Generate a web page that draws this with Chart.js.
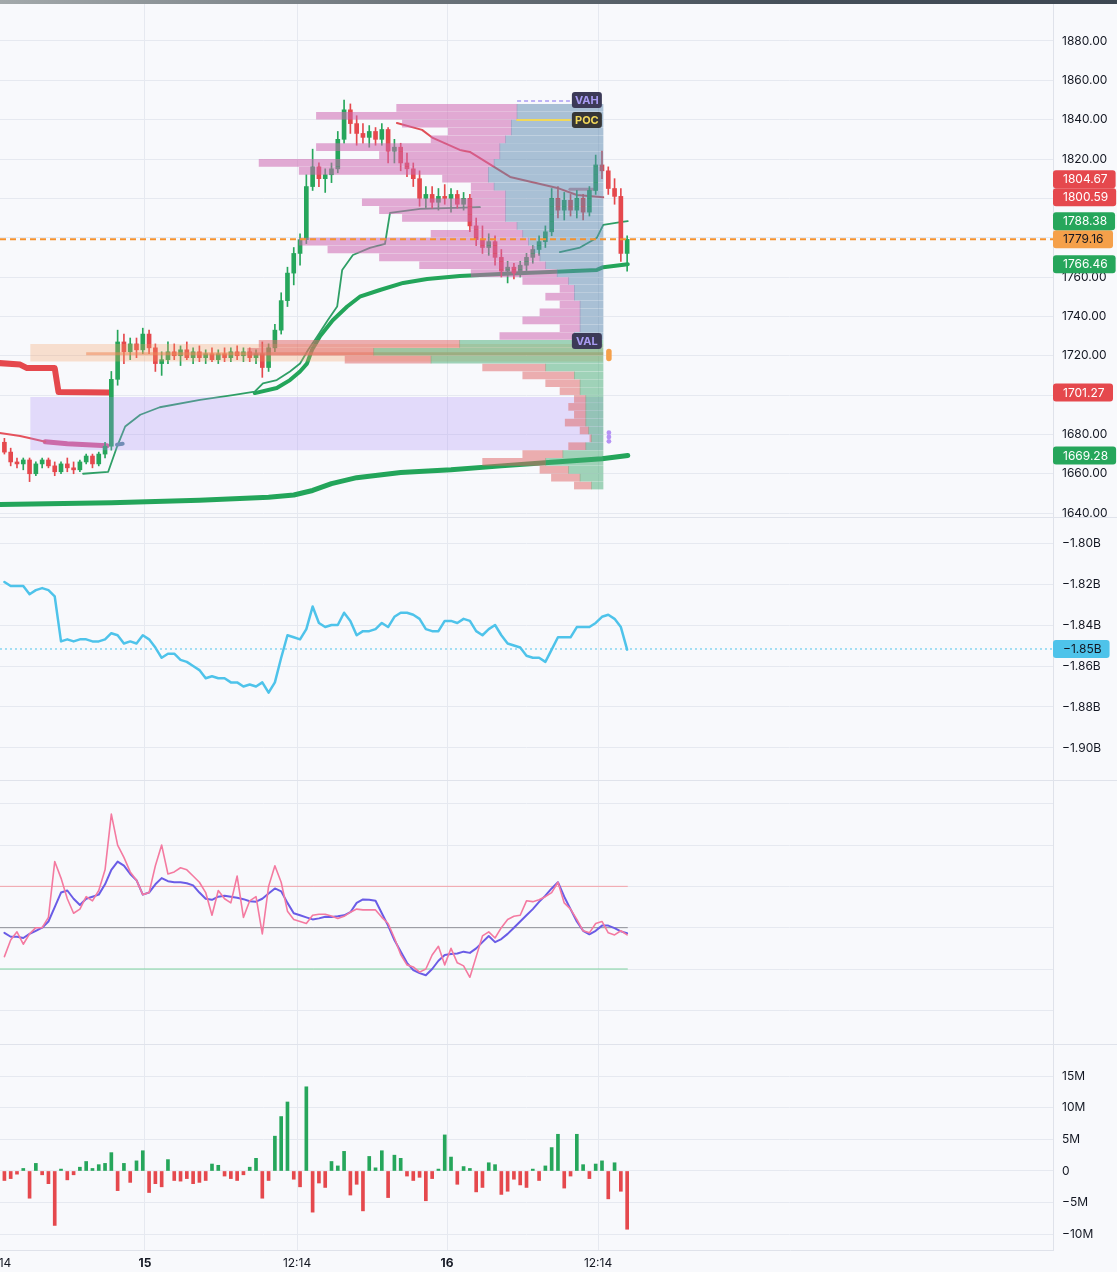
<!DOCTYPE html>
<html>
<head>
<meta charset="utf-8">
<script src="https://cdn.jsdelivr.net/npm/chart.js@4.4.1/dist/chart.umd.min.js"></script>
<style>
  body { margin: 0; background: #f8f9fc; width: 1117px; height: 1272px; overflow: hidden; position: relative; }
  .topbar { position: absolute; left: 0; top: 0; width: 1117px; height: 4px; background: linear-gradient(90deg, #a3a9ab, #6f777d 35%, #46505a 70%, #3d4752); }
  .pane { position: absolute; left: 0; }
  .sep { position: absolute; left: 0; width: 1117px; height: 1px; background: #e0e3eb; z-index: 2; }
</style>
</head>
<body>
<div class="topbar"></div>
<canvas class="pane" id="priceChart" width="1117" height="514" style="top:4px"></canvas>
<canvas class="pane" id="cvdChart" width="1117" height="263" style="top:518px"></canvas>
<canvas class="pane" id="oscChart" width="1117" height="263" style="top:781px"></canvas>
<canvas class="pane" id="deltaChart" width="1117" height="228" style="top:1044px"></canvas>
<div class="sep" style="top:517px"></div>
<div class="sep" style="top:780px"></div>
<div class="sep" style="top:1044px"></div>
<script>
// --- x axis (bar index, 30 min bars) ---
const xTickPos = [-1.15, 22.35, 46.52, 70.37, 94.37];
const xTickLabels = ['12:14', '15', '12:14', '16', '12:14'];
const X_MIN = -0.7, X_MAX = 166.7;

// --- candles ---
const opens = [1676, 1671, 1666, 1665, 1667, 1660, 1665, 1667, 1664, 1661,
  1665, 1663, 1662, 1666, 1669, 1665, 1670, 1674, 1708, 1727,
  1722, 1726, 1723, 1731, 1724, 1716, 1718, 1722, 1720, 1723,
  1719, 1722, 1719, 1721, 1718, 1721, 1719, 1722, 1720, 1722,
  1719, 1721, 1714, 1724, 1733, 1748, 1762, 1772, 1779, 1806,
  1816, 1810, 1812, 1815, 1830, 1845, 1838, 1833, 1831, 1834,
  1830, 1835, 1824, 1826, 1818, 1815, 1810, 1800, 1802, 1798,
  1801, 1800, 1802, 1797, 1800, 1786, 1779, 1775, 1778, 1770,
  1763, 1765, 1762, 1766, 1770, 1774, 1778, 1783, 1800, 1794,
  1799, 1794, 1800, 1793, 1804, 1817, 1814, 1805, 1801, 1772];
const highs = [1678, 1673, 1668, 1668, 1668, 1666, 1668, 1668, 1666, 1666,
  1668, 1666, 1667, 1670, 1670, 1671, 1676, 1712, 1733, 1731,
  1729, 1729, 1734, 1733, 1726, 1722, 1727, 1726, 1725, 1727,
  1724, 1725, 1723, 1724, 1723, 1724, 1724, 1725, 1724, 1724,
  1723, 1727, 1726, 1736, 1752, 1765, 1775, 1782, 1812, 1825,
  1818, 1815, 1818, 1834, 1850, 1848, 1842, 1838, 1837, 1836,
  1838, 1836, 1830, 1828, 1823, 1818, 1814, 1806, 1806, 1805,
  1807, 1805, 1804, 1803, 1802, 1790, 1786, 1782, 1781, 1774,
  1768, 1767, 1768, 1772, 1776, 1781, 1786, 1805, 1806, 1803,
  1802, 1804, 1802, 1806, 1822, 1824, 1816, 1810, 1805, 1781];
const lows = [1670, 1664, 1663, 1662, 1656, 1659, 1663, 1663, 1659, 1660,
  1661, 1660, 1661, 1665, 1663, 1664, 1668, 1672, 1705, 1716,
  1718, 1719, 1721, 1721, 1712, 1710, 1716, 1718, 1715, 1718,
  1716, 1717, 1716, 1717, 1716, 1717, 1717, 1718, 1717, 1717,
  1716, 1709, 1712, 1722, 1731, 1745, 1756, 1766, 1777, 1804,
  1806, 1803, 1808, 1813, 1828, 1833, 1827, 1828, 1826, 1827,
  1827, 1818, 1818, 1814, 1811, 1806, 1796, 1795, 1795, 1794,
  1797, 1793, 1795, 1794, 1783, 1776, 1772, 1771, 1766, 1760,
  1757, 1759, 1760, 1763, 1767, 1771, 1775, 1781, 1790, 1789,
  1791, 1790, 1789, 1791, 1802, 1810, 1802, 1797, 1768, 1763];
const closes = [1671, 1666, 1665, 1667, 1660, 1665, 1667, 1664, 1661, 1665,
  1663, 1662, 1666, 1669, 1665, 1670, 1674, 1708, 1727, 1722,
  1726, 1723, 1731, 1724, 1716, 1718, 1722, 1720, 1723, 1719,
  1722, 1719, 1721, 1718, 1721, 1719, 1722, 1720, 1722, 1719,
  1721, 1714, 1724, 1733, 1748, 1762, 1772, 1779, 1806, 1816,
  1810, 1812, 1815, 1830, 1845, 1838, 1833, 1831, 1834, 1830,
  1835, 1824, 1826, 1818, 1815, 1810, 1800, 1802, 1798, 1801,
  1800, 1802, 1797, 1800, 1786, 1779, 1775, 1778, 1770, 1763,
  1765, 1762, 1766, 1770, 1774, 1778, 1783, 1800, 1794, 1799,
  1794, 1800, 1793, 1804, 1817, 1814, 1805, 1801, 1772, 1779.16];

// --- overlay lines on price pane (x = bar index, y = price) ---
const lowerTrendX = [-1, 17, 31, 42, 46, 49, 52, 56, 63, 71, 79, 87, 95, 99.1];
const lowerTrendY = [1644.3, 1645.3, 1646.5, 1648, 1649.2, 1651.5, 1655, 1658, 1660.6, 1662, 1664, 1665.8, 1667.6, 1669.28];
const upperTrendX = [39.8, 43.3, 45.4, 47, 48.1, 48.9, 50.2, 52.2, 54.5, 56.5, 59.7, 63.4, 67.2, 72.4, 78.8, 86.7, 94.2, 95.2, 99.1];
const upperTrendY = [1701, 1703.6, 1707.6, 1712, 1716, 1723, 1730, 1738, 1745, 1750, 1753.4, 1757, 1759, 1760.5, 1761.5, 1762.5, 1763.6, 1765, 1766.46];
const vwapX = [12.5, 16.5, 17.9, 19.2, 21.6, 24.7, 31.1, 36.3, 39.8, 41.1, 43.3, 45.4, 47, 48.3, 49.7, 51.4, 52.9, 53.7, 55.4, 58.1, 60.5, 61.3, 66.1, 75.6, 80, 88.3, 91.5, 94.2, 95.2, 98.2, 99.1];
const vwapY = [1660, 1661, 1673.7, 1684, 1690, 1693.8, 1697.5, 1700, 1701.7, 1706, 1707.6, 1712, 1716, 1723, 1729.7, 1738, 1745, 1763.6, 1771.2, 1774.8, 1776.8, 1792.6, 1794.6, 1795.5, null, 1772.7, 1775, 1780, 1786.5, 1788, 1788.38];
const stopX = [-1, 2.5, 3.6, 8.0, 8.6, 16.8];
const stopY = [1716.3, 1715.5, 1713.7, 1713.7, 1701.5, 1701.27];
const lowerRedX = [-1, 2.5, 4.1, 6.5];
const lowerRedY = [1680.9, 1679.2, 1678, 1676.3];
const pinkBandX = [6.5, 10, 16.3];
const pinkBandY = [1676.3, 1675.2, 1674.2];
const descRedX = [62.4, 66.4, 68.1, 72.4, 74, 80.4, 87.9, 91, 95.2];
const descRedY = [1838.3, 1834.8, 1830.7, 1824.6, 1823.6, 1810.9, 1805.3, 1801.7, 1800.59];
const roseX = [89.9, 93.6];
const roseY = [1804.67, 1804.67];

// zones
const zoneX = [4.1, 95.2];
const purpleZone = [1672, 1699];
const orangeZone = [1717, 1726];
const orangeMidX = [13, 95.2];
const orangeMid = 1721;
const lastPrice = 1779.16;

// --- volume profile rows (price, total, inner part) ---
const profilePrice = [1846, 1842, 1838, 1834, 1830, 1826, 1822, 1818, 1814, 1810, 1806, 1802, 1798, 1794, 1790, 1786, 1782, 1778, 1774, 1770, 1766, 1762, 1758, 1754, 1750, 1746, 1742, 1738, 1734, 1730, 1726, 1722, 1718, 1714, 1710, 1706, 1702, 1698, 1694, 1690, 1686, 1682, 1678, 1674, 1670, 1666, 1662, 1658, 1654];
const profileTotal = [36, 50, 35, 27, 30, 50, 39, 60, 53, 28, 23, 23, 42, 39, 35, 23, 30, 53, 48, 39, 32, 23, 14, 7.5, 10, 7.5, 11, 14, 7.5, 18, 60, 62, 45, 21, 14, 10, 7.5, 5, 6, 5, 6.6, 4, 2.3, 6, 14, 21, 11, 9, 5];
const profileInner = [15, 15, 16, 16, 17, 18, 18, 19, 20, 20, 19, 17, 17, 17, 17, 15, 14, 13, 12, 11, 10, 8, 6, 5, 5, 4, 4, 4, 4, 5, 25, 40, 30, 10, 5, 4, 4, 3, 3, 3, 3, 2.5, 2, 3, 7, 10, 6, 4, 2];
const VAL_PRICE = 1728;
const markNames = ['VAH', 'POC', 'VAL'];
const markPrices = [1850, 1839.8, 1727.5];
const markX = 92.6;
const markLineX = [81.5, 89.9];
const dotX = 96.1;
const orangePill = [1718.6, 1722.2];
const purpleDotsY = [1680.9, 1678.7, 1676.5];

// right axis tags
const tagValues = [1804.67, 1800.59, 1788.38, 1779.16, 1766.46, 1701.27, 1669.28];
const tagKinds = ['down', 'down', 'up', 'last', 'up', 'down', 'up'];

// --- cumulative delta pane ---
const cvd = [-1.819, -1.821, -1.821, -1.821, -1.825, -1.823, -1.822, -1.823, -1.826, -1.848,
  -1.847, -1.848, -1.847, -1.847, -1.848, -1.848, -1.847, -1.844, -1.845, -1.849,
  -1.848, -1.849, -1.845, -1.847, -1.851, -1.856, -1.854, -1.854, -1.857, -1.858,
  -1.860, -1.862, -1.866, -1.865, -1.866, -1.866, -1.868, -1.868, -1.870, -1.869,
  -1.870, -1.868, -1.873, -1.868, -1.856, -1.845, -1.846, -1.847, -1.842, -1.831,
  -1.839, -1.841, -1.840, -1.840, -1.834, -1.838, -1.845, -1.843, -1.843, -1.842,
  -1.839, -1.841, -1.836, -1.834, -1.834, -1.835, -1.837, -1.842, -1.843, -1.843,
  -1.838, -1.838, -1.839, -1.837, -1.838, -1.843, -1.845, -1.842, -1.840, -1.845,
  -1.849, -1.850, -1.851, -1.855, -1.856, -1.856, -1.858, -1.852, -1.846, -1.846,
  -1.846, -1.841, -1.841, -1.841, -1.839, -1.836, -1.835, -1.837, -1.841, -1.852];
const cvdLast = -1.8517;
const cvdTicks = [-1.90, -1.88, -1.86, -1.84, -1.82, -1.80];

// --- oscillator pane ---
const oscFast = [36, 44, 48, 42, 47, 50, 50, 55, 82, 74,
  64, 57, 59, 65, 63, 68, 78, 105, 90, 84,
  77, 73, 66, 67, 80, 90, 76, 77, 79, 78,
  75, 72, 67, 56, 68, 64, 62, 75, 55, 63,
  65, 47, 70, 80, 72, 58, 54, 53, 52, 56,
  56.5, 56.5, 55.7, 54.5, 55.5, 57.5, 59, 58.6, 58.6, 58.6,
  55, 52, 45, 37, 32, 31, 28.5, 30, 36.8, 41,
  32, 40, 33, 31.5, 26, 36, 46, 48, 45, 50,
  54, 55.5, 56, 63, 62.6, 63.5, 65, 67, 72, 62,
  59, 54, 48.5, 47.5, 52, 53, 47.5, 46.5, 48.5, 46.5];
const oscSlow = [47.5, 45.6, 45.6, 45, 47, 48.5, 50, 53, 60, 67,
  68, 64, 61, 64, 65, 66, 71, 78, 82, 80,
  76, 73, 66, 67, 71, 74, 72.5, 72, 72, 71.5,
  70.5, 67, 64, 63.5, 65, 65.5, 65, 64.5, 63.8, 62.8,
  62.6, 64, 66.5, 69, 67.6, 62, 57, 56, 55, 54,
  54.5, 55.3, 55.2, 55.5, 56, 57.5, 62, 63.7, 63.5, 63,
  57, 51, 44, 38.5, 33, 29.5, 28, 27, 30, 34,
  36.8, 37.3, 37.5, 38.4, 37.8, 40, 43, 46, 43, 44.5,
  47, 50, 53, 56, 59, 62.5, 65.5, 69, 72, 65,
  59, 53, 48.5, 46.8, 48.5, 51, 51, 49.8, 48.2, 47.3];
const oscLevels = [70, 50, 30];
const oscTicks = [10, 30, 50, 70, 90, 110];

// --- volume delta pane (millions) ---
const volDelta = [-1.5, -1.2, -0.5, 0.4, -4.3, 1.2, -0.6, -2.0, -8.6, 0.3,
  -1.4, -0.6, 0.6, 1.5, 0.4, 1.0, 1.2, 2.9, -3.1, 1.2,
  -1.8, 1.6, 3.2, -3.4, -2.0, -2.5, 1.8, -1.5, -1.6, -1.2,
  -2.0, -1.8, -1.5, 1.1, 0.9, -0.8, -1.2, -1.5, -0.6, 0.6,
  2.0, -4.3, -1.5, 5.5, 8.6, 10.9, -1.3, -2.5, 13.3, -6.5,
  -1.9, -2.6, 1.5, 0.8, 3.1, -3.8, -2.1, -6.3, 2.3, 0.5,
  3.2, -4.2, 2.5, 2.0, -0.8, -1.5, -1.0, -4.7, -1.2, 0.3,
  5.7, 2.2, -2.1, 0.7, 0.4, -3.3, -2.6, 1.3, 1.0, -3.7,
  -3.2, -1.3, -2.2, -2.6, 0.3, -1.5, 0.8, 3.7, 5.8, -2.7,
  -0.8, 5.8, 1.0, -1.2, 1.1, 1.6, -4.4, 1.3, -3.2, -9.2];
const volTicks = [-10, -5, 0, 5, 10, 15];
const priceTicks = [1640, 1660, 1680, 1700, 1720, 1740, 1760, 1780, 1800, 1820, 1840, 1860, 1880];

// --- styles ---
const UP = '#26a65b';
const DOWN = '#e5484d';
const GRID = '#e6e9f0';
const AXIS = '#dfe2ea';
const TEXT = '#131722';
const FONT = 'Inter, "Noto Sans", "DejaVu Sans", sans-serif';
const tagColors = { up: ['#26a65b', '#ffffff'], down: ['#e5484d', '#ffffff'], last: ['#f5a04a', '#131722'] };

Chart.defaults.font.family = FONT;
Chart.defaults.font.size = 12;
Chart.defaults.color = TEXT;
Chart.defaults.animation = false;
Chart.defaults.plugins.legend.display = false;
Chart.defaults.plugins.tooltip.enabled = false;

const pts = (xs, ys) => xs.map((x, i) => ({ x, y: ys[i] }));
const minus = v => (v < 0 ? '\u2212' : '') + Math.abs(v);
const noPad = s => { s.paddingLeft = 0; s.paddingRight = 0; s.paddingTop = 0; s.paddingBottom = 0; };

function timeAxis(showLabels) {
  return {
    type: 'linear', min: X_MIN, max: X_MAX, offset: false,
    grid: { color: GRID, drawTicks: false, offset: false },
    border: { display: showLabels, color: AXIS },
    afterBuildTicks: s => { s.ticks = xTickPos.map(v => ({ value: v })); },
    afterFit: s => { s.height = showLabels ? 22 : 0; noPad(s); },
    ticks: {
      display: showLabels, autoSkip: false, maxRotation: 0, padding: 6, color: TEXT,
      callback: (v, i) => xTickLabels[i],
      font: ctx => ({ family: FONT, size: 12, weight: /^\d+$/.test(xTickLabels[ctx.index] || '') ? 'bold' : 'normal' })
    }
  };
}

function rightAxis(min, max, ticks, fmt, showLabels) {
  return {
    type: 'linear', position: 'right', min, max, offset: false,
    grid: { color: GRID, drawTicks: false, offset: false },
    border: { display: true, color: AXIS },
    afterBuildTicks: s => { s.ticks = ticks.map(v => ({ value: v })); },
    afterFit: s => { s.width = 64; noPad(s); },
    ticks: { display: showLabels, padding: 9, color: TEXT, font: { size: 12 }, callback: fmt }
  };
}

const baseLayout = { padding: 0, autoPadding: false };

// boxes on the price scale, pushed apart when they collide
const axisTags = {
  id: 'axisTags',
  afterDraw(chart, args, opts) {
    const { ctx } = chart;
    const y = chart.scales.y;
    const tags = (opts.tags || []).slice().sort((a, b) => a.value - b.value);
    let prev = Infinity;
    tags.forEach(t => {
      const py = Math.min(y.getPixelForValue(t.value), prev - 18);
      prev = py;
      ctx.save();
      ctx.font = '12px ' + FONT;
      const w = Math.max(t.minW || 60, ctx.measureText(t.text).width + 18);
      ctx.fillStyle = t.bg;
      ctx.beginPath();
      ctx.roundRect(y.left, py - 9, w, 18, 3);
      ctx.fill();
      ctx.fillStyle = t.fg;
      ctx.textBaseline = 'middle';
      ctx.fillText(t.text, y.left + 10, py + 0.5);
      ctx.restore();
    });
  }
};

// VAH / POC / VAL boxes
const profileMarks = {
  id: 'profileMarks',
  afterDatasetsDraw(chart) {
    const { ctx } = chart;
    const { x, y } = chart.scales;
    const fg = { VAH: '#a99cf3', POC: '#f1d85a', VAL: '#a99cf3' };
    const bg = { VAH: '#3c3a57', POC: '#363636', VAL: '#3c3a57' };
    markNames.forEach((name, k) => {
      const cx = x.getPixelForValue(markX);
      const cy = y.getPixelForValue(markPrices[k]);
      ctx.save();
      ctx.fillStyle = bg[name];
      ctx.beginPath();
      ctx.roundRect(cx - 15, cy - 8, 30, 16, 3);
      ctx.fill();
      ctx.fillStyle = fg[name];
      ctx.font = 'bold 11px ' + FONT;
      ctx.textAlign = 'center';
      ctx.textBaseline = 'middle';
      ctx.fillText(name, cx, cy + 0.5);
      ctx.restore();
    });
  }
};

const line = (data, color, width, order, extra) => Object.assign({
  type: 'line', data, borderColor: color, borderWidth: width, pointRadius: 0,
  tension: 0, order, borderCapStyle: 'round', borderJoinStyle: 'round'
}, extra || {});

const candleColor = ctx => closes[ctx.dataIndex] >= opens[ctx.dataIndex] ? UP : DOWN;
const inVA = ctx => profilePrice[ctx.dataIndex] > VAL_PRICE;

new Chart(document.getElementById('priceChart'), {
  type: 'line',
  data: {
    datasets: [
      line(pts([X_MIN, X_MAX], [lastPrice, lastPrice]), '#f5922f', 2, 1, { borderDash: [6, 4], borderCapStyle: 'butt' }),
      line(pts(markLineX, [1849.5, 1849.5]), '#a99cf3', 1.5, 2, { borderDash: [4, 3], borderCapStyle: 'butt' }),
      line(pts(markLineX, [1839.8, 1839.8]), '#f1d85a', 2, 2),
      line(pts([dotX, dotX], orangePill), '#f5a04a', 5.5, 2),
      line(purpleDotsY.map(v => ({ x: dotX, y: v })), '#b28cf5', 0, 2, { showLine: false, pointRadius: 2.4, pointBackgroundColor: '#b592f5' }),
      {
        type: 'bar', label: 'profile inner', order: 4, grouped: false, barThickness: 7, xAxisID: 'xp', indexAxis: 'y',
        data: profilePrice.map((p, i) => ({ x: [0, profileInner[i]], y: p })),
        backgroundColor: ctx => inVA(ctx) ? 'rgba(96,140,176,0.52)' : 'rgba(70,172,116,0.5)'
      },
      {
        type: 'bar', label: 'profile total', order: 4, grouped: false, barThickness: 7, xAxisID: 'xp', indexAxis: 'y',
        data: profilePrice.map((p, i) => ({ x: [profileInner[i], profileTotal[i]], y: p })),
        backgroundColor: ctx => inVA(ctx) ? 'rgba(206,104,176,0.55)' : 'rgba(222,104,104,0.52)'
      },
      line(pts(zoneX, [purpleZone[1], purpleZone[1]]), 'transparent', 0, 6, { fill: { value: purpleZone[0] }, backgroundColor: 'rgba(165,135,245,0.27)' }),
      line(pts(zoneX, [orangeZone[1], orangeZone[1]]), 'transparent', 0, 6, { fill: { value: orangeZone[0] }, backgroundColor: 'rgba(245,160,100,0.3)' }),
      line(pts(orangeMidX, [orangeMid, orangeMid]), 'rgba(236,128,84,0.55)', 3, 6, { borderCapStyle: 'butt' }),
      {
        type: 'bar', label: 'body', order: 9, grouped: false, barThickness: 4, xAxisID: 'x',
        data: closes.map((c, i) => ({ x: i, y: [opens[i], c] })),
        backgroundColor: candleColor
      },
      {
        type: 'bar', label: 'wick', order: 10, grouped: false, barThickness: 1, xAxisID: 'x',
        data: highs.map((h, i) => ({ x: i, y: [lows[i], h] })),
        backgroundColor: candleColor
      },
      line(pts(descRedX, descRedY), '#e04f57', 2, 12),
      line(pts(roseX, roseY), 'rgba(200,120,140,0.8)', 3, 12),
      line(pts(stopX, stopY), '#e5484d', 6, 12),
      line(pts(lowerRedX, lowerRedY), '#e5525c', 2, 12),
      line(pts(pinkBandX, pinkBandY), '#d9608f', 5, 12),
      line(pts([17.9, 18.8], [1674.8, 1675.2]), '#5f8fa0', 4, 12),
      line(pts(vwapX, vwapY), '#2f9f66', 1.8, 13),
      line(pts(upperTrendX, upperTrendY), '#23a55a', 4, 14),
      line(pts(lowerTrendX, lowerTrendY), '#23a55a', 5, 15)
    ]
  },
  options: {
    responsive: false,
    layout: baseLayout,
    scales: {
      x: timeAxis(false),
      xp: { type: 'linear', axis: 'x', reverse: true, min: -78.5, max: 105.2, display: false, stacked: false, offset: false, grid: { offset: false } },
      y: rightAxis(1637.5, 1898.8, priceTicks, v => v.toFixed(2), true)
    },
    plugins: {
      axisTags: {
        tags: tagValues.map((v, i) => ({ value: v, text: v.toFixed(2), bg: tagColors[tagKinds[i]][0], fg: tagColors[tagKinds[i]][1] }))
      }
    }
  },
  plugins: [profileMarks, axisTags]
});

new Chart(document.getElementById('cvdChart'), {
  type: 'line',
  data: {
    datasets: [
      line(pts([X_MIN, X_MAX], [cvdLast, cvdLast]), '#4ec3ea', 1, 1, { borderDash: [2, 3], borderCapStyle: 'butt' }),
      line(cvd.map((v, i) => ({ x: i, y: v })), '#4ec3ea', 2.5, 2)
    ]
  },
  options: {
    responsive: false,
    layout: baseLayout,
    scales: {
      x: timeAxis(false),
      y: rightAxis(-1.9161, -1.7878, cvdTicks, v => minus(+v.toFixed(2)).replace(/(\.\d)$/, '$10') + 'B', true)
    },
    plugins: {
      axisTags: { tags: [{ value: cvdLast, text: '\u22121.85B', bg: '#4ec3ea', fg: '#131722', minW: 54 }] }
    }
  },
  plugins: [axisTags]
});

new Chart(document.getElementById('oscChart'), {
  type: 'line',
  data: {
    datasets: [
      line(oscFast.map((v, i) => ({ x: i, y: v })), '#f47aa0', 1.6, 1),
      line(oscSlow.map((v, i) => ({ x: i, y: v })), '#6a5ce6', 2, 2),
      line(pts([X_MIN, 99.1], [oscLevels[0], oscLevels[0]]), '#f3a3aa', 1, 3, { borderCapStyle: 'butt' }),
      line(pts([X_MIN, 99.1], [oscLevels[1], oscLevels[1]]), '#8f9097', 1, 3, { borderCapStyle: 'butt' }),
      line(pts([X_MIN, 99.1], [oscLevels[2], oscLevels[2]]), '#7fd3a0', 1, 3, { borderCapStyle: 'butt' })
    ]
  },
  options: {
    responsive: false,
    layout: baseLayout,
    scales: {
      x: timeAxis(false),
      y: rightAxis(-6.3, 121, oscTicks, v => v, false)
    }
  }
});

new Chart(document.getElementById('deltaChart'), {
  type: 'bar',
  data: {
    datasets: [{
      data: volDelta.map((v, i) => ({ x: i, y: v })),
      grouped: false, barThickness: 3,
      backgroundColor: ctx => volDelta[ctx.dataIndex] >= 0 ? UP : DOWN
    }]
  },
  options: {
    responsive: false,
    layout: baseLayout,
    scales: {
      x: timeAxis(true),
      y: rightAxis(-12.48, 20.06, volTicks, v => v === 0 ? '0' : minus(v) + 'M', true)
    }
  }
});
</script>
</body>
</html>
